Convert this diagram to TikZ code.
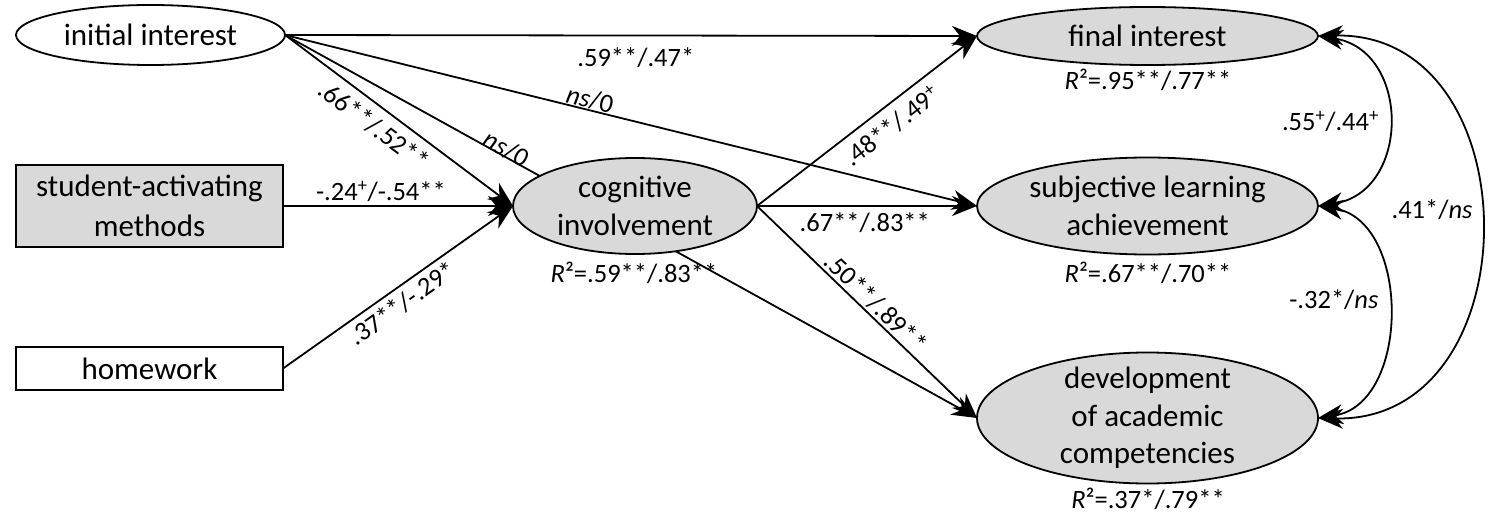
\documentclass[tikz,border=0pt]{standalone}
\usepackage{fontspec}
\setmainfont{Carlito}
\usetikzlibrary{arrows.meta,shapes.geometric}
\definecolor{lgray}{RGB}{217,217,217}
\pgfdeclarelayer{bg}
\pgfsetlayers{bg,main}
\begin{document}
\begin{tikzpicture}[x=1pt,y=-1pt,
  lw/.style={line width=1.8pt},
  nfont/.style={font=\fontsize{31}{37.5}\selectfont},
  lfont/.style={font=\fontsize{26.5}{31}\selectfont},
  latent/.style={ellipse,draw,lw,fill=lgray,inner sep=0pt,outer sep=0pt},
  obs/.style={rectangle,draw,lw,inner sep=0pt,outer sep=0pt,nfont,align=center},
  arr/.style={lw,-{Stealth[length=25pt,width=20pt,inset=8pt]}},
  darr/.style={lw,{Stealth[length=25pt,width=20pt,inset=8pt]}-{Stealth[length=25pt,width=20pt,inset=8pt]}},
  lbl/.style={lfont,inner sep=0pt},
  rsq/.style={lfont,inner sep=0pt,anchor=base},
]
\useasboundingbox (0,0) rectangle (1488,513);

\node[latent,fill=white,minimum width=269pt,minimum height=60pt,
  label={[nfont]center:initial interest}] (ii) at (150.5,35) {};
\node[obs,fill=lgray,minimum width=267pt,minimum height=82pt] (sa) at (149.5,206) {student-activating\\[2.5pt]methods};
\node[obs,fill=white,minimum width=267pt,minimum height=43pt] (hw) at (149.5,368.5) {homework};
\node[latent,minimum width=244pt,minimum height=96pt,
  label={[nfont,align=center]center:cognitive\\involvement}] (cog) at (635,206) {};
\node[latent,minimum width=341pt,minimum height=58pt,
  label={[nfont]center:final interest}] (fi) at (1147.5,36) {};
\node[latent,minimum width=341pt,minimum height=97pt,
  label={[nfont,align=center]center:subjective learning\\achievement}] (sub) at (1147.5,206) {};
\node[latent,minimum width=341pt,minimum height=131pt,
  label={[nfont,align=center]center:development\\of academic\\competencies}] (dev) at (1147.5,418) {};

\node[rsq] (rcog) at (634,282) {\textit{R}²=.59**/.83**};
\node[rsq] (rfi) at (1148,90) {\textit{R}²=.95**/.77**};
\node[rsq] (rsub) at (1148,282) {\textit{R}²=.67**/.70**};
\node[rsq] (rdev) at (1148,508) {\textit{R}²=.37*/.79**};

\begin{pgfonlayer}{bg}
\draw[arr] (ii.east) -- node[lbl,pos=0.507,below=11pt] {.59**/.47*} (fi.west);
\draw[arr] (ii.east) -- node[lbl,sloped,pos=0.437,above=0pt] {\textit{ns}/0} (sub.west);
\draw[arr] (ii.east) -- node[lbl,sloped,pos=0.44,below=8pt] {.66**/.52**} (cog.west);
\draw[arr] (ii.east) -- node[lbl,sloped,pos=0.315,above=-3pt] {\textit{ns}/0} (dev.west);
\draw[arr] (sa.east) -- node[lbl,pos=0.426,above=3pt] {-.24\textsuperscript{+}/-.54**} (cog.west);
\draw[arr] (hw.east) -- node[lbl,sloped,pos=0.48,below=5pt] {.37**/-.29*} (cog.west);
\draw[arr] (cog.east) -- node[lbl,sloped,pos=0.56,below=8pt] {.48**/.49\textsuperscript{+}} (fi.west);
\draw[arr] (cog.east) -- node[lbl,pos=0.49,below=6pt] {.67**/.83**} (sub.west);
\draw[arr] (cog.east) -- node[lbl,sloped,pos=0.5,above=2pt] {.50**/.89**} (dev.west);
\draw[darr] (fi.east) .. controls (1411,50) and (1411,192) .. node[lbl,left=8pt] {.55\textsuperscript{+}/.44\textsuperscript{+}} (sub.east);
\draw[darr] (sub.east) .. controls (1411,220) and (1411,404) .. node[lbl,pos=0.46,left=8pt] {-.32*/\textit{ns}} (dev.east);
\draw[darr] (fi.east) .. controls (1534,30) and (1534,424) .. node[lbl,pos=0.47,left=6pt] {.41*/\textit{ns}} (dev.east);
\end{pgfonlayer}
\end{tikzpicture}
\end{document}
